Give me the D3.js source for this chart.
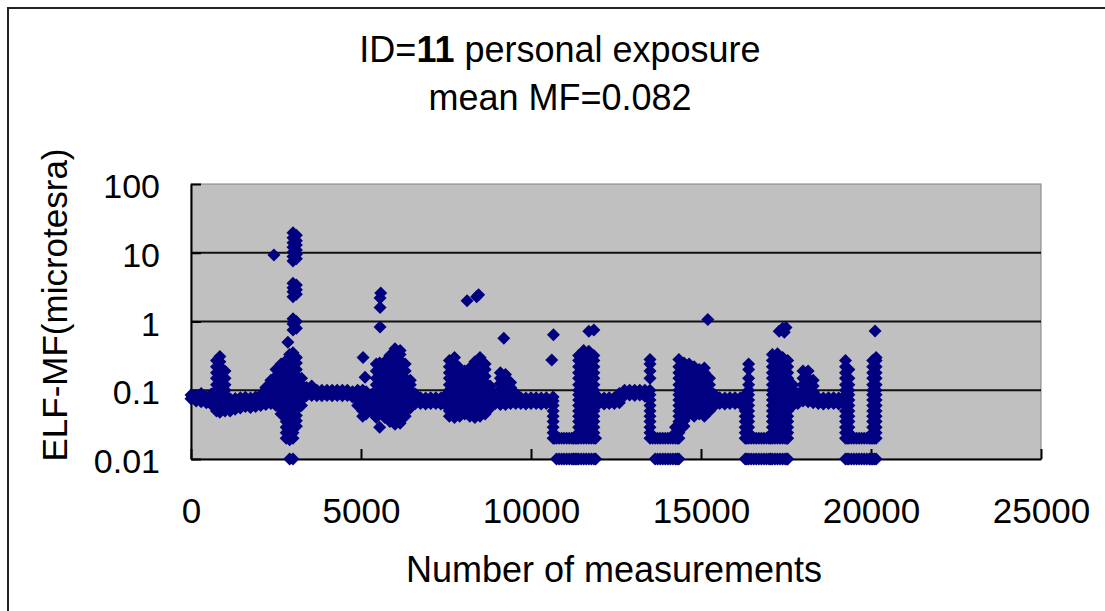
<!DOCTYPE html>
<html><head><meta charset="utf-8">
<script src="https://cdn.jsdelivr.net/npm/d3@7"></script>
<style>
body{margin:0;background:#fff;}
svg{display:block;font-family:"Liberation Sans",Arial,sans-serif;}
</style>
</head><body>
<svg id="chart" width="1105" height="611"></svg>
<script>
// ---------- text ----------
const titleParts = ["ID=", "11", " personal exposure"];
const subtitle = "mean MF=0.082";
const xTitle = "Number of measurements";
const yTitle = "ELF-MF(microtesra)";

// ---------- ticks ----------
const xTicks = [0, 5000, 10000, 15000, 20000, 25000];
const xTickLabels = ["0", "5000", "10000", "15000", "20000", "25000"];
const yTicks = [0.01, 0.1, 1, 10, 100];
const yTickLabels = ["0.01", "0.1", "1", "10", "100"];
const gridValues = [0.1, 1, 10];

// ---------- data (measurement index -> MF values read at that index) ----------
const sampleIndex = [
  0,150,300,450,600,750,850,1000,1150,1300,1450,1600,1750,1900,2050,2200,2350,2500,2650,2800,
  2900,3000,3100,3250,3400,3550,3700,3850,4000,4150,4300,4450,4600,4750,4900,5050,5150,5300,5450,5550,
  5700,5850,6000,6150,6300,6450,6600,6750,6900,7050,7200,7350,7500,7600,7750,7900,8050,8200,8350,8500,
  8650,8800,8950,9100,9250,9400,9550,9700,9850,10000,10150,10300,10450,10650,10750,10900,11050,11200,11300,11400,
  11550,11700,11850,12000,12150,12300,12450,12600,12750,12900,13050,13200,13350,13500,13650,13800,13950,14100,14250,14350,
  14500,14650,14800,14950,15100,15250,15400,15550,15700,15850,16000,16150,16300,16400,16550,16700,16850,17000,17100,17250,
  17400,17550,17700,17850,18000,18150,18300,18450,18600,18750,18900,19050,19250,19350,19500,19650,19800,19950,20050,20150
];
const sampleMF = [
  [0.075,0.085],[0.07,0.084],[0.068,0.082,0.09],[0.066,0.08],[0.062,0.076,0.088],
  [0.05,0.06,0.072,0.086,0.1,0.12,0.15,0.18,0.22,0.27],
  [0.048,0.058,0.07,0.085,0.1,0.12,0.15,0.18,0.22,0.26,0.31],
  [0.05,0.06,0.072,0.086,0.1,0.12,0.15,0.19],
  [0.05,0.062,0.075],[0.053,0.064,0.076],[0.055,0.066,0.078],[0.058,0.068,0.079],[0.056,0.066,0.077],
  [0.058,0.068,0.08],[0.06,0.072,0.086],[0.062,0.075,0.09,0.11],[0.064,0.078,0.095,0.115,0.14],
  [0.06,0.072,0.088,0.105,0.13,0.16,0.2],
  [0.045,0.054,0.065,0.078,0.094,0.11,0.13,0.16,0.2,0.24],
  [0.02,0.024,0.029,0.035,0.042,0.05,0.06,0.072,0.086,0.1,0.12,0.15,0.18,0.22,0.27],
  [0.01,0.019,0.023,0.028,0.034,0.041,0.05,0.06,0.072,0.086,0.1,0.12,0.15,0.18,0.22,0.27,0.33],
  [0.01,0.02,0.024,0.029,0.035,0.042,0.05,0.06,0.072,0.086,0.1,0.12,0.15,0.18,0.22,0.28,0.35,0.75,0.92,1.1,2.3,2.7,3.1,3.6,7.6,8.8,10.2,12,14,16.5,19.5],
  [0.03,0.036,0.043,0.052,0.062,0.075,0.09,0.11,0.13,0.16,0.2,0.25,0.3,0.8,1.0,2.5,2.9,3.4,8.2,9.5,11,13,15,18],
  [0.06,0.072,0.086,0.1,0.12,0.15],
  [0.084,0.1,0.11],[0.084,0.1,0.115],[0.083,0.1],[0.083,0.1],[0.084,0.1],[0.083,0.1],[0.084,0.1],[0.083,0.1],[0.084,0.1],
  [0.08,0.095],[0.06,0.072,0.086,0.1],
  [0.042,0.05,0.06,0.072,0.086,0.1],
  [0.045,0.055,0.066,0.08,0.095],
  [0.05,0.06,0.072,0.086],
  [0.04,0.05,0.06,0.072,0.086,0.1,0.12,0.15,0.19,0.24],
  [0.029,0.05,0.06,0.072,0.086,0.1,0.12,0.15,0.2,0.25],
  [0.04,0.048,0.058,0.07,0.085,0.1,0.12,0.15,0.18,0.22,0.26],
  [0.035,0.042,0.05,0.06,0.072,0.086,0.1,0.12,0.15,0.18,0.22,0.27,0.32],
  [0.032,0.04,0.048,0.058,0.07,0.085,0.1,0.12,0.15,0.18,0.22,0.27,0.33,0.4],
  [0.033,0.04,0.048,0.058,0.07,0.085,0.1,0.12,0.15,0.18,0.22,0.27,0.33,0.38],
  [0.042,0.05,0.06,0.072,0.086,0.1,0.12,0.15,0.19,0.24],
  [0.055,0.066,0.08,0.1,0.12,0.14],
  [0.064,0.078,0.088],[0.064,0.078],[0.063,0.077],[0.064,0.078],[0.064,0.078],[0.063,0.077],[0.06,0.072,0.086],
  [0.042,0.05,0.06,0.072,0.086,0.1,0.12,0.15,0.18,0.22,0.27],
  [0.04,0.048,0.058,0.07,0.084,0.1,0.12,0.145,0.175,0.21,0.25,0.3],
  [0.042,0.05,0.06,0.072,0.086,0.1,0.12,0.15,0.18,0.21],
  [0.045,0.054,0.065,0.078,0.094,0.11,0.13,0.16,0.19],
  [0.042,0.05,0.06,0.072,0.086,0.1,0.12,0.15,0.18,0.21],
  [0.04,0.048,0.058,0.07,0.085,0.1,0.12,0.15,0.18,0.22,0.26],
  [0.042,0.05,0.06,0.072,0.086,0.1,0.12,0.15,0.18,0.22,0.27,0.3],
  [0.045,0.054,0.065,0.078,0.094,0.11,0.13,0.16,0.2,0.24],
  [0.055,0.066,0.08,0.096,0.115],
  [0.064,0.078],
  [0.062,0.074,0.088,0.105,0.125,0.15,0.18],
  [0.062,0.074,0.088,0.105,0.125,0.15,0.17],
  [0.064,0.078,0.094,0.11,0.13],
  [0.064,0.078,0.09],
  [0.064,0.078],[0.063,0.077],[0.064,0.078],[0.064,0.078],[0.063,0.077],[0.064,0.078],
  [0.02,0.024,0.029,0.035,0.042,0.05,0.06,0.07,0.08],
  [0.01,0.02],[0.01,0.02],[0.01,0.02],[0.01,0.02],[0.01,0.02],
  [0.01,0.02,0.024,0.029,0.035,0.042,0.05,0.06,0.072,0.086,0.1,0.12,0.15,0.18,0.22,0.27,0.32],
  [0.01,0.02,0.024,0.029,0.035,0.042,0.05,0.06,0.072,0.086,0.1,0.12,0.15,0.18,0.22,0.27,0.33,0.38],
  [0.01,0.02,0.024,0.029,0.035,0.042,0.05,0.06,0.072,0.086,0.1,0.12,0.15,0.18,0.22,0.27,0.33,0.37],
  [0.01,0.02,0.024,0.029,0.035,0.042,0.05,0.06,0.072,0.086,0.1,0.12,0.15,0.18,0.22,0.27,0.32],
  [0.064,0.078],[0.063,0.077],[0.064,0.078],[0.064,0.078],[0.066,0.08,0.09],
  [0.084,0.1],[0.085,0.1],[0.084,0.1],[0.085,0.1],[0.082,0.1],
  [0.02,0.024,0.029,0.035,0.042,0.05,0.06,0.072,0.086,0.1,0.15,0.19,0.24,0.28],
  [0.01,0.02],[0.01,0.02],[0.01,0.02],[0.01,0.02],[0.01,0.02,0.024,0.029],
  [0.01,0.02,0.024,0.029,0.035,0.042,0.05,0.06,0.072,0.086,0.1,0.12,0.15,0.18,0.22,0.28],
  [0.03,0.036,0.044,0.053,0.064,0.077,0.092,0.11,0.135,0.165,0.2,0.25],
  [0.045,0.054,0.065,0.078,0.094,0.11,0.13,0.16,0.2,0.24],
  [0.042,0.05,0.06,0.072,0.086,0.1,0.12,0.15,0.18,0.22],
  [0.045,0.054,0.065,0.078,0.094,0.11,0.13,0.16,0.2],
  [0.042,0.05,0.06,0.072,0.086,0.1,0.12,0.15,0.18,0.21],
  [0.05,0.06,0.072,0.086,0.1,0.12,0.15],
  [0.06,0.072,0.086],
  [0.064,0.078],[0.063,0.077],[0.064,0.078],[0.064,0.078],[0.063,0.077],
  [0.01,0.02,0.024,0.029,0.035,0.042,0.05,0.06,0.072,0.086],
  [0.01,0.02,0.024,0.029,0.035,0.042,0.05,0.06,0.072,0.086,0.1,0.12,0.15,0.2,0.24],
  [0.01,0.02],[0.01,0.02],[0.01,0.02],[0.01,0.02],
  [0.01,0.02,0.024,0.029,0.035,0.042,0.05,0.06,0.072,0.086,0.1,0.12,0.15,0.18,0.22,0.27,0.33],
  [0.01,0.02,0.024,0.029,0.035,0.042,0.05,0.06,0.072,0.086,0.1,0.12,0.15,0.18,0.22,0.27,0.34],
  [0.01,0.02,0.024,0.029,0.035,0.042,0.05,0.06,0.072,0.086,0.1,0.12,0.15,0.18,0.22,0.27,0.3],
  [0.01,0.02,0.024,0.029,0.035,0.042,0.05,0.06,0.072,0.086,0.1,0.12,0.15,0.18,0.22,0.27],
  [0.06,0.072,0.086,0.1,0.12],
  [0.064,0.078,0.09],
  [0.07,0.085,0.1,0.12,0.15,0.19],
  [0.068,0.082,0.1,0.12,0.15,0.19],
  [0.066,0.08,0.095,0.115,0.14],
  [0.064,0.078],[0.063,0.077],[0.064,0.078],[0.064,0.078],[0.063,0.077],
  [0.01,0.02,0.024,0.029,0.035,0.042,0.05,0.06,0.072,0.086,0.1,0.12,0.15,0.18,0.22,0.27],
  [0.01,0.02,0.024,0.029,0.035,0.042,0.05,0.06,0.072,0.086,0.1,0.12,0.15,0.2],
  [0.01,0.02],[0.01,0.02],[0.01,0.02],[0.01,0.02],
  [0.01,0.02,0.024,0.029,0.035,0.042,0.05,0.06,0.072,0.086,0.1,0.12,0.15,0.18,0.22,0.27],
  [0.01,0.02,0.024,0.029,0.035,0.042,0.05,0.06,0.072,0.086,0.1,0.12,0.15,0.18,0.22,0.27,0.3]
];
// extra readings on the instrument floor (0.01 / 0.02) between the columns above
const floorIndex = [
  10700,10825,10975,11125,11250,11350,11475,11625,11775,11900,
  13575,13725,13875,14025,14175,14300,
  16350,16475,16625,16775,16925,17050,17175,17325,17475,17525,
  19300,19425,19575,19725,19875,20000,20100
];
const floorMF = [
  [0.02],[0.01,0.02],[0.01,0.02],[0.01,0.02],[0.01,0.02],[0.01,0.02],[0.01,0.02],[0.01,0.02],[0.01,0.02],[0.01,0.02],
  [0.02],[0.01,0.02],[0.01,0.02],[0.01,0.02],[0.01,0.02],[0.01,0.02],
  [0.01,0.02],[0.01,0.02],[0.01,0.02],[0.01,0.02],[0.01,0.02],[0.01,0.02],[0.01,0.02],[0.01,0.02],[0.01,0.02],[0.01,0.02],
  [0.01,0.02],[0.01,0.02],[0.01,0.02],[0.01,0.02],[0.01,0.02],[0.01,0.02],[0.01,0.02]
];
// isolated readings
const outlierIndex = [2440, 2850, 5060, 5120, 5560, 5560, 5560, 5580, 8120, 8400, 8460, 9200, 10610, 10660, 11700, 11850, 15200, 17300, 17400, 17450, 17500, 20120];
const outlierMF    = [9.3,  0.5,  0.3,  0.155, 0.83, 1.6, 2.2, 2.6, 2.0, 2.3, 2.45, 0.57, 0.275, 0.64, 0.72, 0.75, 1.07, 0.72, 0.8, 0.7, 0.82, 0.73];

// ---------- drawing ----------
const plot = {left: 191, right: 1041, top: 184, bottom: 459};
const svg = d3.select("#chart");

const x = d3.scaleLinear().domain([0, 25000]).range([plot.left, plot.right]);
const y = d3.scaleLog().domain([0.01, 100]).range([plot.bottom, plot.top]);

// outer chart frame (only left/top edges visible)
svg.append("rect").attr("x", 8).attr("y", 8).attr("width", 1200).attr("height", 700)
  .attr("fill", "#fff").attr("stroke", "#222").attr("stroke-width", 2);

// plot area
svg.append("rect").attr("x", plot.left).attr("y", plot.top)
  .attr("width", plot.right - plot.left).attr("height", plot.bottom - plot.top)
  .attr("fill", "#c0c0c0").attr("stroke", "#808080").attr("stroke-width", 1);

// gridlines
svg.append("g").selectAll("line").data(gridValues).join("line")
  .attr("x1", plot.left).attr("x2", plot.right)
  .attr("y1", d => y(d)).attr("y2", d => y(d))
  .attr("stroke", "#111").attr("stroke-width", 2);

// axes
const xAxis = svg.append("g").attr("transform", `translate(0,${plot.bottom})`)
  .call(d3.axisBottom(x).tickValues(xTicks).tickFormat((d, i) => xTickLabels[i]).tickSize(-10).tickSizeOuter(0));
xAxis.select(".domain").attr("stroke", "#000").attr("stroke-width", 2);
xAxis.selectAll(".tick line").attr("stroke", "#000").attr("stroke-width", 2);
xAxis.selectAll("text").attr("y", 64).attr("dy", null)
  .attr("font-size", 35).attr("font-family", "'Liberation Sans', Arial, sans-serif").attr("fill", "#000");

const yAxis = svg.append("g").attr("transform", `translate(${plot.left},0)`)
  .call(d3.axisLeft(y).tickValues(yTicks).tickFormat((d, i) => yTickLabels[i]).tickSize(-10).tickSizeOuter(0).tickPadding(31));
yAxis.select(".domain").attr("stroke", "#000").attr("stroke-width", 2);
yAxis.selectAll(".tick line").attr("stroke", "#000").attr("stroke-width", 2);
yAxis.selectAll("text").attr("dy", "0.4em")
  .attr("font-size", 34).attr("font-family", "'Liberation Sans', Arial, sans-serif").attr("fill", "#000");

// points
const points = [];
sampleIndex.forEach((xi, i) => sampleMF[i].forEach(v => points.push([xi, v])));
floorIndex.forEach((xi, i) => floorMF[i].forEach(v => points.push([xi, v])));
outlierIndex.forEach((xi, i) => points.push([xi, outlierMF[i]]));

const s = 6.5;
const diamond = `M0,${-s}L${s},0L0,${s}L${-s},0Z`;
svg.append("g").selectAll("path").data(points).join("path")
  .attr("d", diamond)
  .attr("transform", d => `translate(${x(d[0])},${y(d[1])})`)
  .attr("fill", "#000080");

// titles
const t = svg.append("text").attr("x", 560).attr("y", 62).attr("text-anchor", "middle")
  .attr("font-size", 36).attr("fill", "#000");
t.append("tspan").text(titleParts[0]);
t.append("tspan").attr("font-weight", "bold").text(titleParts[1]);
t.append("tspan").text(titleParts[2]);

svg.append("text").attr("x", 560).attr("y", 110).attr("text-anchor", "middle")
  .attr("font-size", 36).attr("fill", "#000").text(subtitle);

svg.append("text").attr("x", 614).attr("y", 582).attr("text-anchor", "middle")
  .attr("font-size", 36).attr("fill", "#000").text(xTitle);

svg.append("text").attr("transform", "translate(67,305) rotate(-90)").attr("text-anchor", "middle")
  .attr("font-size", 35).attr("fill", "#000").text(yTitle);
</script>
</body></html>
